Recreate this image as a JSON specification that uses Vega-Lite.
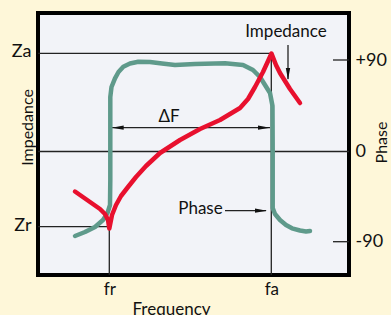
{
  "$schema": "https://vega.github.io/schema/vega-lite/v6.json",
  "width": 311,
  "height": 262,
  "autosize": {"type": "none"},
  "padding": {"left": 38, "top": 13, "right": 42, "bottom": 40},
  "background": "#FEF7D9",
  "config": {
    "view": {"stroke": "#000000", "strokeWidth": 4, "fill": "#F2F3F8"},
    "font": "Lato",
    "axis": {"grid": false, "domain": false, "ticks": false, "labelColor": "#111111", "titleColor": "#111111", "titleFontWeight": "normal"}
  },
  "datasets": {
    "refs": [
      {"name": "Za", "x": 0, "x2": 233.3, "y": 97.7, "y2": 97.7},
      {"name": "Zr", "x": 0, "x2": 71.3, "y": -75.7, "y2": -75.7},
      {"name": "zero", "x": 0, "x2": 311, "y": -0.5, "y2": -0.5},
      {"name": "fr", "x": 71.3, "x2": 71.3, "y": -124, "y2": -75.7},
      {"name": "fa", "x": 233.3, "x2": 233.3, "y": -124, "y2": 97.7},
      {"name": "dF", "x": 73.7, "x2": 232, "y": 23.3, "y2": 23.3},
      {"name": "impArrow", "x": 250, "x2": 250, "y": 106, "y2": 72},
      {"name": "phaseArrow", "x": 187, "x2": 228, "y": -59.7, "y2": -59.7}
    ],
    "ticks": [
      {"x": 295, "x2": 311, "y": 91},
      {"x": 295, "x2": 311, "y": -90.7}
    ],
    "heads": [
      {"x": 79.7, "y": 23.3, "dir": "left"},
      {"x": 226, "y": 23.3, "dir": "right"},
      {"x": 250, "y": 77, "dir": "down"},
      {"x": 223, "y": -59.7, "dir": "right"}
    ],
    "labels": [
      {"x": 248, "y": 114, "text": "Impedance"},
      {"x": 131, "y": 29.3, "text": "ΔF"},
      {"x": 162.5, "y": -63, "text": "Phase"}
    ],
    "phase": [
      {"i": 1, "x": 37, "y": -85},
      {"i": 2, "x": 47, "y": -81},
      {"i": 3, "x": 57, "y": -76},
      {"i": 4, "x": 65, "y": -69},
      {"i": 5, "x": 69.5, "y": -62},
      {"i": 6, "x": 72, "y": -54},
      {"i": 7, "x": 72.3, "y": -29},
      {"i": 8, "x": 72.3, "y": 21},
      {"i": 9, "x": 72.3, "y": 54},
      {"i": 10, "x": 73.5, "y": 64},
      {"i": 11, "x": 77, "y": 72.7},
      {"i": 12, "x": 80.5, "y": 79},
      {"i": 13, "x": 85.3, "y": 84.3},
      {"i": 14, "x": 92, "y": 87.5},
      {"i": 15, "x": 100.3, "y": 89.3},
      {"i": 16, "x": 112, "y": 89},
      {"i": 17, "x": 124, "y": 87.5},
      {"i": 18, "x": 137, "y": 86},
      {"i": 19, "x": 157, "y": 87},
      {"i": 20, "x": 187, "y": 87.7},
      {"i": 21, "x": 205, "y": 86},
      {"i": 22, "x": 215, "y": 81},
      {"i": 23, "x": 222, "y": 74},
      {"i": 24, "x": 227, "y": 66},
      {"i": 25, "x": 232, "y": 58},
      {"i": 26, "x": 234.5, "y": 45},
      {"i": 27, "x": 234.7, "y": 1},
      {"i": 28, "x": 234.7, "y": -57},
      {"i": 29, "x": 237, "y": -63},
      {"i": 30, "x": 242, "y": -69},
      {"i": 31, "x": 248, "y": -74},
      {"i": 32, "x": 254, "y": -77.3},
      {"i": 33, "x": 262, "y": -79.5},
      {"i": 34, "x": 268, "y": -80.5},
      {"i": 35, "x": 272, "y": -80}
    ],
    "impedance": [
      {"i": 1, "x": 37, "y": -40.5},
      {"i": 2, "x": 52, "y": -51},
      {"i": 3, "x": 62, "y": -58},
      {"i": 4, "x": 67, "y": -63},
      {"i": 5, "x": 70, "y": -69},
      {"i": 6, "x": 71.3, "y": -77.5},
      {"i": 7, "x": 74, "y": -64},
      {"i": 8, "x": 78, "y": -54},
      {"i": 9, "x": 83, "y": -45},
      {"i": 10, "x": 90, "y": -36},
      {"i": 11, "x": 98, "y": -26},
      {"i": 12, "x": 108, "y": -15},
      {"i": 13, "x": 122, "y": -2},
      {"i": 14, "x": 142, "y": 11},
      {"i": 15, "x": 162, "y": 22},
      {"i": 16, "x": 182, "y": 31},
      {"i": 17, "x": 202, "y": 43},
      {"i": 18, "x": 210, "y": 52},
      {"i": 19, "x": 217, "y": 64},
      {"i": 20, "x": 225, "y": 79},
      {"i": 21, "x": 233.5, "y": 97.5},
      {"i": 22, "x": 238, "y": 86},
      {"i": 23, "x": 242, "y": 78},
      {"i": 24, "x": 252, "y": 62},
      {"i": 25, "x": 262, "y": 48}
    ]
  },
  "resolve": {"axis": {"y": "independent"}},
  "layer": [
    {
      "data": {"name": "refs"},
      "mark": {"type": "rule", "color": "#222222", "strokeWidth": 1.3},
      "encoding": {
        "x": {"field": "x", "type": "quantitative", "scale": {"domain": [0, 311], "nice": false, "zero": false},
          "axis": {"orient": "bottom", "values": [71.3, 233.3], "labelExpr": "datum.value < 100 ? 'fr' : 'fa'", "labelFontSize": 17, "labelPadding": 6,
            "title": "Frequency", "titleFontSize": 17, "titleX": 133, "titleY": 26, "titleAlign": "center"}},
        "x2": {"field": "x2"},
        "y": {"field": "y", "type": "quantitative", "scale": {"domain": [-124, 138], "nice": false, "zero": false},
          "axis": {"values": [97.7, -75.7], "labelExpr": "datum.value > 0 ? 'Za' : 'Zr'", "labelFontSize": 18, "labelPadding": 7, "labelOffset": -1.5,
            "title": "Impedance", "titleFontSize": 16, "titleAngle": 270, "titleX": -5.3, "titleY": 114, "titleBaseline": "alphabetic", "titleAlign": "center"}},
        "y2": {"field": "y2"}
      }
    },
    {
      "data": {"name": "ticks"},
      "mark": {"type": "rule", "color": "#222222", "strokeWidth": 1.3},
      "encoding": {
        "x": {"field": "x", "type": "quantitative"},
        "x2": {"field": "x2"},
        "y": {"field": "y", "type": "quantitative",
          "axis": {"orient": "right", "values": [91, -0.5, -90.7], "labelExpr": "datum.value > 50 ? '+90' : (datum.value < -50 ? '-90' : '0')", "labelFontSize": 18, "labelPadding": 6,
            "title": "Phase", "titleFontSize": 16, "titleAngle": 270, "titleX": 37.7, "titleY": 129, "titleBaseline": "alphabetic", "titleAlign": "center"}}
      }
    },
    {
      "data": {"name": "heads"},
      "mark": {"type": "point", "filled": true, "color": "#111111", "size": 144, "opacity": 1, "strokeWidth": 0},
      "encoding": {
        "x": {"field": "x", "type": "quantitative"},
        "y": {"field": "y", "type": "quantitative", "axis": null},
        "shape": {"field": "dir", "type": "nominal", "legend": null,
          "scale": {"domain": ["left", "right", "down"], "range": ["M-1,0L1,-0.36L1,0.36Z", "M1,0L-1,-0.36L-1,0.36Z", "M0,1L-0.36,-1L0.36,-1Z"]}}
      }
    },
    {
      "data": {"name": "labels"},
      "mark": {"type": "text", "fontSize": 17, "color": "#111111", "align": "center", "baseline": "alphabetic"},
      "encoding": {
        "x": {"field": "x", "type": "quantitative"},
        "y": {"field": "y", "type": "quantitative", "axis": null},
        "text": {"field": "text"}
      }
    },
    {
      "data": {"name": "phase"},
      "mark": {"type": "line", "color": "#5F9A8B", "strokeWidth": 4.5, "strokeCap": "round", "strokeJoin": "round"},
      "encoding": {
        "x": {"field": "x", "type": "quantitative"},
        "y": {"field": "y", "type": "quantitative", "axis": null},
        "order": {"field": "i"}
      }
    },
    {
      "data": {"name": "impedance"},
      "mark": {"type": "line", "color": "#E8102E", "strokeWidth": 4.5, "strokeCap": "round", "strokeJoin": "round"},
      "encoding": {
        "x": {"field": "x", "type": "quantitative"},
        "y": {"field": "y", "type": "quantitative", "axis": null},
        "order": {"field": "i"}
      }
    }
  ]
}
